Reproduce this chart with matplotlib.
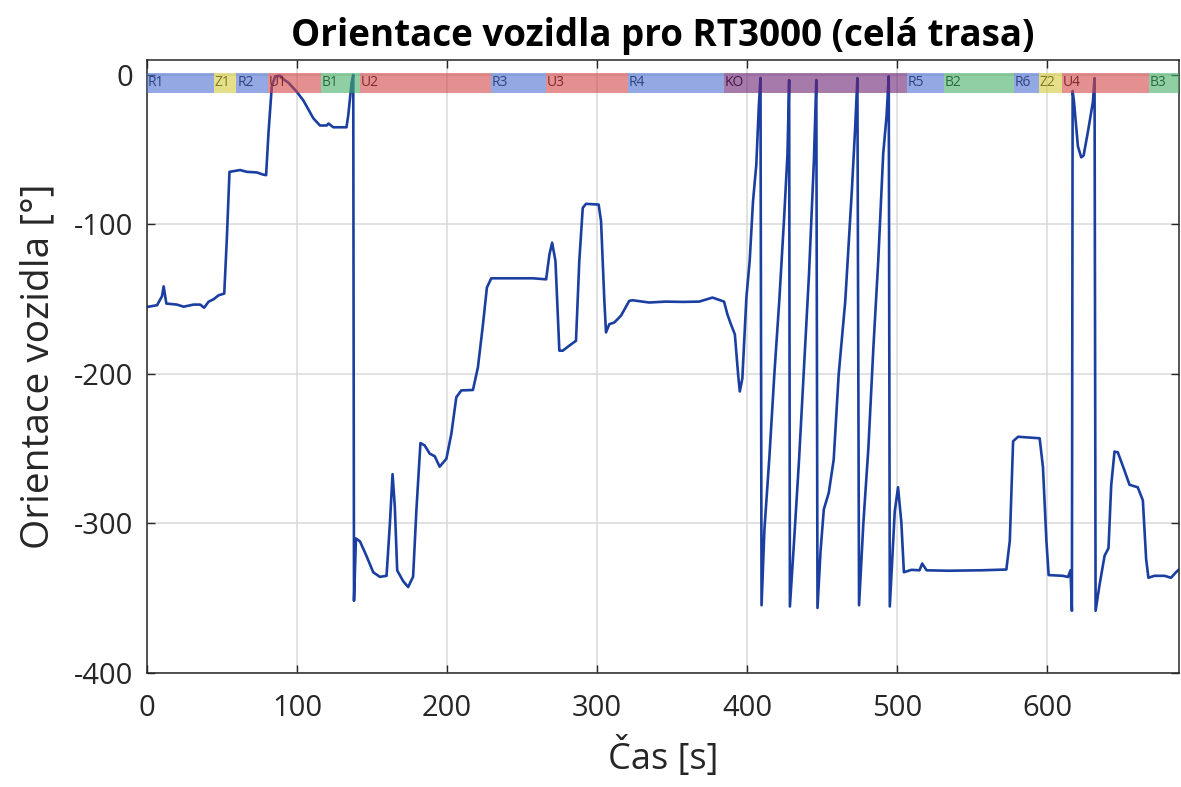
import matplotlib.pyplot as plt
from matplotlib.patches import Rectangle

plt.rcParams['font.family'] = ['Open Sans', 'DejaVu Sans']
plt.rcParams['axes.unicode_minus'] = False

# time [s] and heading [deg]
time = [0, 6.7, 10, 11.1, 12.9, 20, 24.4, 31, 35.5, 38.1, 41, 44.4, 47.7, 51.5,
        53.2, 55, 62.1, 66.5, 73.2, 77.6, 79.4, 81, 83.2, 85.4, 88.7, 91, 94.3,
        99.8, 104.2, 110.9, 115.3, 119.8, 121, 124.2, 133, 134.2, 136.4, 137.5,
        138, 139.3, 142, 146.4, 150.8, 155.2, 159.7, 161.9, 163.7, 165.2, 166.8,
        170.8, 174.1, 177.4, 179.6, 182.3, 185.1, 188.5, 191.8, 195.1, 199.6,
        202.9, 206.2, 209.5, 217.3, 220.6, 224, 226.6, 229.5, 235, 246.1, 257.2,
        266.1, 268.3, 270.1, 272.3, 274.9, 277.2, 281.6, 286, 288.2, 290.5,
        292.7, 301.1, 302.7, 304.9, 306, 308.2, 311.5, 316, 321.5, 323.7, 334.8,
        345.9, 357, 368.1, 377, 384.7, 386.9, 389, 391.9, 394.1, 395.2, 396.9,
        399.6, 401.8, 404, 406.2, 407.9, 409, 409.7, 411.6, 414.9, 418.2, 421.5,
        424.8, 427, 428.1, 428.6, 431.4, 434.7, 438, 441.3, 444.6, 446.2, 447,
        449, 451.2, 454.5, 457.8, 461.1, 465.5, 469.9, 472.1, 473.6, 474.7,
        477.6, 480.9, 484.2, 487.5, 490.8, 493, 494.5, 495.2, 498.5, 500.7,
        502.9, 504.6, 509.6, 515, 516.8, 519.7, 534.1, 556.3, 572.9, 575.2,
        577.4, 580.7, 595.1, 597.3, 599.6, 601.1, 610.6, 614, 615.7, 616.6,
        617.1, 618, 620.6, 622.8, 624.4, 627.3, 630.6, 631.7, 632.4, 635, 638.4,
        641, 642.8, 645, 647.2, 651.7, 655, 660.5, 663.9, 666.1, 667.6, 671.6,
        678.3, 682.7, 686, 687.8]
heading = [-155.2, -154, -148, -141.4, -152.9, -153.6, -155, -153.6, -153.6,
           -155.7, -151.7, -150, -147.4, -146.2, -110, -64.8, -63.6, -64.8,
           -65.2, -66.7, -67, -38.6, -7.6, -1, -0.5, -2.9, -5.2, -11.2, -17,
           -29, -33.8, -33.8, -32.5, -35, -35, -26.7, -5.2, 0, -351.7, -310,
           -312, -321.9, -332.6, -335.7, -335, -300.5, -267, -288.6, -331.4,
           -338.6, -342.5, -335.6, -291, -246.2, -247.8, -253.3, -255, -262,
           -256.7, -240, -215.6, -211, -210.7, -195.6, -166.7, -142.2, -136,
           -136, -136, -136, -136.7, -120, -112.2, -124.4, -184.4, -184.4, -181,
           -177.8, -124.4, -88.9, -86.2, -86.7, -97.8, -151.1, -172.2, -166.7,
           -165.6, -161, -151.1, -150.7, -152.2, -151.6, -151.8, -151.6, -148.9,
           -151.6, -160, -166, -173.5, -200.6, -211.7, -203, -148.8, -124.2,
           -84.7, -60, -20.5, -2, -354.7, -304.2, -256, -200.6, -151.3, -94.6,
           -52.7, -3.4, -355.5, -311.6, -257.3, -195.7, -134, -57.6, -3.4,
           -356.5, -319, -290.6, -279.5, -257.3, -200.6, -151.3, -77.3, -35.4,
           -2.1, -354.7, -299.3, -249.9, -183.4, -124.2, -52.7, -28, -0.9,
           -355.5, -291.9, -275.8, -299.3, -332.6, -331, -331.3, -326.8, -331.3,
           -331.6, -331.3, -330.8, -311.6, -245, -242, -243, -262.3, -311.6,
           -334.5, -335, -335.8, -331.3, -358.4, -10.7, -18, -47.7, -55.1, -53.9,
           -37.9, -18, -2.1, -358.4, -341.2, -321.5, -316.5, -274.6, -251.9,
           -252.4, -264.7, -274.1, -275.8, -284.5, -323.9, -336.3, -335, -335,
           -336.3, -332.6, -331]

# route sections shown in the band at the top
seg_names = ['R1', 'Z1', 'R2', 'U1', 'B1', 'U2', 'R3', 'U3', 'R4', 'KO',
             'R5', 'B2', 'R6', 'Z2', 'U4', 'B3']
seg_start = [0, 44.6, 59.6, 80.7, 116, 142, 229, 266, 320.7, 384.6,
             506.5, 531.5, 578, 594.7, 610, 667.8]
seg_end = seg_start[1:] + [688]

colors = {'R': (77/255, 113/255, 210/255), 'Z': (213/255, 203/255, 60/255),
          'U': (212/255, 70/255, 70/255), 'B': (68/255, 175/255, 102/255),
          'K': (108/255, 33/255, 118/255)}

fig = plt.figure(figsize=(11.81, 7.87), dpi=100)
ax = fig.add_axes([147/1181, 1 - 673/787, 1032/1181, 613/787])

ax.plot(time, heading, color='#1a3fa0', linewidth=1.9, zorder=2)

for name, s, e in zip(seg_names, seg_start, seg_end):
    c = colors[name[0]]
    ax.add_patch(Rectangle((s, -12), e - s, 13.5, facecolor=c, alpha=0.6,
                           edgecolor='none', zorder=3))
    dark = tuple(v * 0.6 for v in c)
    ax.text(s + 0.5, -5.2, name, fontsize=10, color=dark, va='center',
            ha='left', zorder=4)

ax.set_xlim(0, 688)
ax.set_ylim(-400, 10)
ax.set_xticks(range(0, 601, 100))
ax.set_yticks(range(-400, 1, 100))
ax.grid(True, color='#dadada', linewidth=1.1)
ax.set_axisbelow(True)
ax.tick_params(direction='in', length=6, width=1, top=True, right=True,
               labelsize=21, colors='#262626')
ax.tick_params(axis='x', pad=15)
ax.tick_params(axis='y', pad=10)
for sp in ax.spines.values():
    sp.set_color('#262626')
    sp.set_linewidth(1.1)

ax.set_title('Orientace vozidla pro RT3000 (celá trasa)', fontsize=26.5,
             fontweight='bold', pad=10)
ax.set_xlabel('Čas [s]', fontsize=26, color='#262626', labelpad=10)
ax.set_ylabel('Orientace vozidla [°]', fontsize=28, color='#262626', labelpad=12)

plt.savefig('out.png', dpi=100)
